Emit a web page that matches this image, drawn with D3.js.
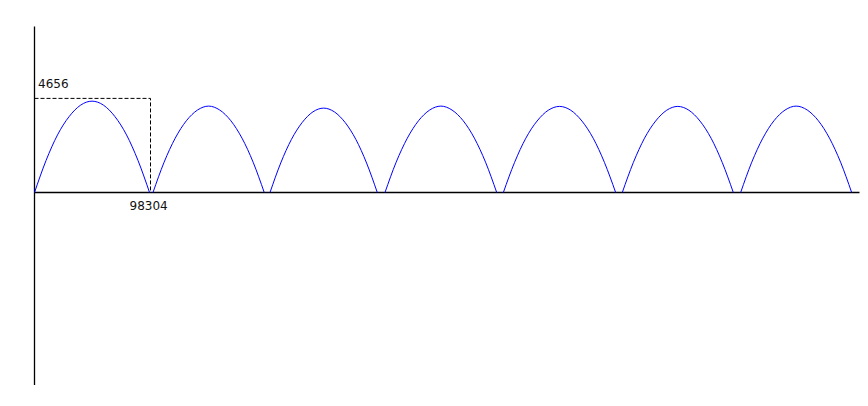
<!DOCTYPE html>
<html>
<head>
<meta charset="utf-8">
<script src="https://cdn.jsdelivr.net/npm/d3@7"></script>
<style>
  html, body { margin: 0; padding: 0; background: #fff; }
  svg { display: block; }
  text { font-family: "DejaVu Sans", sans-serif; font-size: 12px; fill: #111; }
</style>
</head>
<body>
<svg id="chart" width="868" height="406"></svg>
<script>
// ---- data ----
const xDomain = [0, 698700];
const yDomain = [-9495, 8237];
const markX = 98304;          // labelled x position
const markY = 4656;           // labelled y level
const xTickLabels = ["98304"];
const yTickLabels = ["4656"];

const arch1 = [[0,0],[9750,1580],[19500,2850],[29250,3750],[39000,4320],[48750,4520],[58500,4320],[68250,3750],[78000,2850],[87750,1580],[97500,0]];
const arch2 = [[100400,0],[109830,1500],[119260,2690],[128690,3550],[138120,4080],[147550,4275],[156980,4080],[166410,3550],[175840,2690],[185270,1500],[194700,0]];
const arch3 = [[199560,0],[208654,1460],[217748,2630],[226842,3465],[235936,3990],[245030,4175],[254124,3990],[263218,3465],[272312,2630],[281406,1460],[290500,0]];
const arch4 = [[297000,0],[306470,1500],[315940,2690],[325410,3550],[334880,4080],[344350,4275],[353820,4080],[363290,3550],[372760,2690],[382230,1500],[391700,0]];
const arch5 = [[397300,0],[406820,1490],[416340,2685],[425860,3535],[435380,4070],[444900,4260],[454420,4070],[463940,3535],[473460,2685],[482980,1490],[492500,0]];
const arch6 = [[498100,0],[507510,1490],[516920,2685],[526330,3535],[535740,4070],[545150,4260],[554560,4070],[563970,3535],[573380,2685],[582790,1490],[592200,0]];
const arch7 = [[598400,0],[607810,1500],[617220,2690],[626630,3550],[636040,4080],[645450,4275],[654860,4080],[664270,3550],[673680,2690],[683090,1500],[692500,0]];
const arches = [arch1, arch2, arch3, arch4, arch5, arch6, arch7];

// ---- drawing ----
const svg = d3.select("#chart");
const x = d3.scaleLinear().domain(xDomain).range([34.5, 859]);
const y = d3.scaleLinear().domain(yDomain).range([384.5, 26]);

// axes (plain lines, no ticks)
const xAxis = d3.axisBottom(x).tickValues([]).tickSizeOuter(0);
const yAxis = d3.axisLeft(y).tickValues([]).tickSizeOuter(0);
svg.append("g").attr("transform", `translate(0,${Math.floor(y(0))})`).call(xAxis)
  .select(".domain").attr("stroke", "#000").attr("stroke-width", 1.3);
svg.append("g").attr("transform", `translate(${Math.floor(x(0))},0)`).call(yAxis)
  .select(".domain").attr("stroke", "#000").attr("stroke-width", 1.3);

// dashed marker box
svg.append("path")
  .attr("d", d3.line()([[x(0), y(markY)], [x(markX), y(markY)], [x(markX), y(0)]]))
  .attr("fill", "none").attr("stroke", "#000").attr("stroke-width", 1)
  .attr("stroke-dasharray", "4,2");

// arches
const line = d3.line().x(d => x(d[0])).y(d => y(d[1])).curve(d3.curveMonotoneX);
svg.append("g").selectAll("path").data(arches).join("path")
  .attr("d", line)
  .attr("fill", "none")
  .attr("stroke", "#0000ff")
  .attr("stroke-width", 1);

// labels
svg.append("text").attr("x", x(0) + 3.5).attr("y", y(markY) - 10).text(yTickLabels[0]);
svg.append("text").attr("x", x(markX) - 21).attr("y", y(0) + 17).text(xTickLabels[0]);
</script>
</body>
</html>
